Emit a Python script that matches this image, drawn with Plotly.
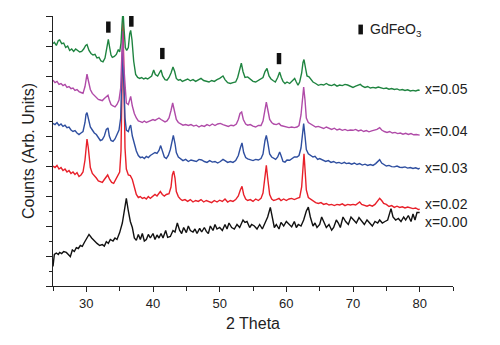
import plotly.graph_objects as go

# ---------------- data ----------------
t00 = [25.0,25.2,25.5,25.8,26.0,26.3,26.6,27.0,27.3,27.6,27.9,28.2,28.5,28.8,29.1,29.4,29.7,30.0,30.4,30.8,31.2,31.6,32.0,32.4,32.7,33.0,33.3,33.6,34.0,34.3,34.6,35.0,35.4,35.7,36.0,36.3,36.6,36.9,37.2,37.5,37.8,38.1,38.4,38.7,39.0,39.3,39.6,40.0,40.3,40.6,40.9,41.2,41.5,41.9,42.2,42.6,43.0,43.3,43.65,44.0,44.3,44.6,45.0,45.3,45.6,46.0,46.3,46.6,47.0,47.3,47.7,48.0,48.3,48.6,49.0,49.3,49.6,50.0,50.4,50.8,51.1,51.4,51.8,52.2,52.6,53.0,53.5,53.8,54.1,54.5,54.8,55.2,55.6,56.0,56.4,56.8,57.2,57.6,57.9,58.2,58.5,58.9,59.2,59.6,60.0,60.4,60.8,61.2,61.5,61.8,62.2,62.6,63.0,63.3,63.6,64.0,64.3,64.6,65.0,65.3,65.7,66.0,66.4,66.8,67.1,67.5,67.8,68.1,68.5,68.9,69.3,69.7,70.1,70.5,70.9,71.3,71.7,72.1,72.5,72.9,73.3,73.7,74.0,74.4,74.8,75.2,75.7,76.0,76.4,76.8,77.2,77.6,77.9,78.3,78.7,79.0,79.3,79.6,80.0]
i00 = [0.65,1.05,1.1,1.05,1.12,1.08,1.15,1.12,1.05,0.98,1.2,1.15,1.28,1.25,1.35,1.32,1.45,1.55,1.72,1.6,1.5,1.42,1.35,1.38,1.33,1.48,1.42,1.55,1.5,1.6,1.55,1.78,2.1,2.55,2.92,2.5,2.15,1.95,1.6,1.52,1.72,1.55,1.75,1.5,1.55,1.72,1.6,1.75,1.55,1.7,1.6,1.75,1.6,1.85,1.62,1.65,1.85,1.8,2.1,1.85,1.75,1.95,1.78,2.0,1.85,1.8,1.9,1.75,1.92,1.8,1.95,1.82,1.75,2.0,1.85,2.05,1.9,1.95,1.85,2.05,1.9,2.1,1.95,1.9,2.05,1.95,2.2,2.12,2.15,1.95,2.05,2.0,1.9,2.05,1.9,2.1,2.3,2.62,2.3,1.95,2.05,1.9,2.12,2.0,2.15,2.05,1.97,2.15,1.95,2.05,2.0,2.2,2.5,2.63,2.3,2.0,2.1,1.95,2.05,2.3,2.1,1.95,2.05,1.86,1.95,2.2,2.1,1.95,2.3,2.15,2.05,2.3,2.2,2.1,2.28,2.15,2.05,2.2,2.1,2.0,2.15,2.1,2.2,2.1,2.15,2.2,2.58,2.3,2.2,2.25,2.15,2.3,2.2,2.35,2.15,2.4,2.2,2.45,2.45]

t02 = [25.0,25.3,25.6,25.9,26.2,26.5,26.8,27.1,27.4,27.7,28.0,28.3,28.6,28.9,29.2,29.5,29.8,29.95,30.1,30.3,30.6,30.9,31.2,31.5,31.8,32.1,32.4,32.7,33.0,33.2,33.5,33.8,34.1,34.4,34.7,35.0,35.2,35.35,35.5,35.65,35.8,36.0,36.3,36.6,36.9,37.2,37.5,37.8,38.1,38.4,38.7,39.0,39.3,39.6,40.0,40.3,40.6,40.9,41.1,41.4,41.7,42.0,42.4,42.7,42.9,43.1,43.3,43.5,43.8,44.1,44.4,44.8,45.2,45.6,46.0,46.4,46.8,47.2,47.6,48.0,48.4,48.8,49.2,49.6,50.0,50.4,50.8,51.2,51.6,52.0,52.4,52.8,53.1,53.35,53.6,53.9,54.2,54.6,55.0,55.4,55.8,56.2,56.5,56.8,57.0,57.2,57.5,57.8,58.1,58.5,58.9,59.2,59.6,60.0,60.4,60.8,61.2,61.6,62.0,62.3,62.5,62.65,62.8,63.0,63.3,63.6,64.0,64.4,64.8,65.2,65.6,66.0,66.4,66.8,67.2,67.6,68.0,68.4,68.8,69.2,69.6,70.0,70.4,70.8,71.0,71.3,71.7,72.1,72.5,72.9,73.3,73.7,74.0,74.3,74.6,75.0,75.4,75.8,76.2,76.6,77.0,77.4,77.8,78.2,78.6,79.0,79.4,79.8,80.0]
i02 = [4.0,3.95,4.02,3.9,3.95,3.85,3.9,3.8,3.85,3.75,3.8,3.72,3.78,3.65,3.7,3.8,4.2,4.75,4.9,4.6,3.95,3.75,3.68,3.6,3.5,3.48,3.45,3.55,3.62,3.7,3.55,3.45,3.42,3.55,3.65,3.8,4.5,6.5,8.85,6.8,4.6,3.9,3.7,3.68,3.55,3.3,3.05,2.95,2.98,2.92,2.95,2.9,2.98,2.92,3.0,3.05,3.0,3.08,3.15,3.05,3.0,3.05,3.08,3.3,3.7,3.83,3.6,3.15,2.98,2.9,2.85,2.88,2.82,2.88,2.8,2.85,2.82,2.88,2.8,2.85,2.82,2.78,2.85,2.8,2.86,2.82,2.9,2.8,2.85,2.82,2.88,3.0,3.2,3.32,3.05,2.9,2.85,2.88,2.82,2.9,2.85,2.92,3.1,3.7,4.02,3.6,3.05,2.9,2.85,2.88,2.92,2.85,2.9,2.85,2.9,2.92,2.88,2.92,2.95,3.3,4.1,4.41,3.9,3.2,2.95,2.9,2.82,2.78,2.75,2.78,2.72,2.75,2.7,2.72,2.68,2.72,2.7,2.74,2.68,2.72,2.7,2.72,2.7,2.76,2.8,2.72,2.68,2.66,2.7,2.66,2.72,2.82,2.92,2.85,2.75,2.72,2.65,2.68,2.62,2.66,2.62,2.64,2.6,2.63,2.6,2.58,2.6,2.55,2.56]

t03 = [25.0,25.3,25.6,25.9,26.2,26.5,26.8,27.1,27.4,27.7,28.0,28.3,28.6,28.9,29.2,29.5,29.8,29.95,30.1,30.3,30.6,30.9,31.2,31.5,31.8,32.1,32.4,32.7,33.0,33.25,33.45,33.7,34.0,34.3,34.6,34.9,35.15,35.3,35.45,35.6,35.8,36.0,36.3,36.5,36.65,36.9,37.2,37.5,37.8,38.1,38.4,38.7,39.0,39.3,39.6,40.0,40.3,40.6,40.9,41.15,41.4,41.7,42.0,42.3,42.6,42.85,43.05,43.3,43.5,43.8,44.1,44.5,44.9,45.3,45.7,46.1,46.5,46.9,47.3,47.7,48.1,48.5,48.9,49.3,49.7,50.1,50.5,50.8,51.2,51.6,52.0,52.4,52.8,53.1,53.35,53.6,53.9,54.2,54.6,55.0,55.4,55.8,56.2,56.5,56.8,57.0,57.2,57.5,57.8,58.1,58.4,58.7,59.0,59.2,59.5,59.8,60.1,60.5,60.8,61.2,61.6,61.9,62.2,62.45,62.6,62.8,63.0,63.3,63.6,64.0,64.3,64.7,65.0,65.5,65.9,66.3,66.7,67.1,67.5,67.9,68.3,68.7,69.0,69.4,69.8,70.2,70.6,71.0,71.4,71.8,72.2,72.6,73.0,73.4,73.8,74.0,74.3,74.6,75.0,75.4,75.8,76.2,76.6,77.0,77.4,77.8,78.2,78.6,79.0,79.4,79.8,80.0]
i03 = [5.42,5.38,5.45,5.35,5.4,5.32,5.36,5.28,5.3,5.2,5.15,5.18,5.1,5.05,5.1,5.15,5.45,5.72,5.78,5.55,5.3,5.2,5.1,5.05,4.95,4.85,4.88,5.0,5.22,5.27,5.0,4.85,4.82,4.9,5.05,5.2,5.6,6.8,8.0,6.9,5.6,5.2,5.15,5.3,5.36,5.0,4.7,4.5,4.35,4.28,4.3,4.25,4.32,4.28,4.35,4.4,4.45,4.42,4.52,4.68,4.5,4.3,4.25,4.35,4.55,4.9,5.02,4.75,4.45,4.3,4.25,4.18,4.22,4.15,4.2,4.18,4.15,4.22,4.2,4.15,4.12,4.18,4.13,4.15,4.1,4.15,4.22,4.18,4.12,4.15,4.12,4.18,4.35,4.6,4.77,4.45,4.28,4.24,4.2,4.18,4.22,4.2,4.25,4.4,4.85,5.02,4.8,4.4,4.3,4.25,4.22,4.3,4.47,4.35,4.15,4.13,4.2,4.19,4.25,4.3,4.3,4.35,4.6,5.2,5.41,5.0,4.55,4.41,4.35,4.3,4.32,4.22,4.25,4.19,4.15,4.18,4.12,4.15,4.1,4.12,4.08,4.12,4.08,4.1,4.06,4.1,4.05,4.08,4.03,4.06,4.02,4.05,4.02,4.08,4.15,4.21,4.1,4.05,4.0,4.02,3.98,3.97,4.0,3.96,3.95,3.97,3.93,3.95,3.92,3.94,3.9,3.93]

t04 = [25.0,25.3,25.6,25.9,26.2,26.5,26.8,27.1,27.4,27.7,28.0,28.3,28.6,28.9,29.2,29.5,29.8,29.95,30.1,30.3,30.6,30.9,31.2,31.5,31.8,32.1,32.4,32.7,33.0,33.25,33.45,33.7,34.0,34.3,34.6,34.9,35.15,35.3,35.45,35.6,35.8,36.0,36.3,36.5,36.65,36.9,37.2,37.5,37.8,38.1,38.4,38.7,39.0,39.3,39.6,40.0,40.3,40.6,40.9,41.2,41.5,41.8,42.1,42.4,42.7,42.95,43.2,43.5,43.8,44.1,44.5,44.9,45.3,45.7,46.1,46.5,46.9,47.3,47.7,48.1,48.5,48.9,49.3,49.7,50.1,50.5,50.9,51.3,51.7,52.1,52.5,52.8,53.05,53.3,53.55,53.9,54.2,54.6,55.0,55.4,55.8,56.2,56.5,56.8,57.0,57.2,57.5,57.8,58.1,58.5,58.9,59.2,59.6,60.0,60.4,60.8,61.2,61.6,61.9,62.2,62.45,62.6,62.8,63.0,63.3,63.6,64.0,64.4,64.8,65.2,65.6,66.0,66.4,66.8,67.2,67.6,68.0,68.4,68.8,69.2,69.6,70.0,70.4,70.8,71.2,71.6,72.0,72.4,72.8,73.2,73.6,74.0,74.3,74.7,75.1,75.5,75.9,76.3,76.7,77.1,77.5,77.9,78.3,78.7,79.1,79.5,79.9,80.0]
i04 = [6.86,6.78,6.82,6.72,6.75,6.68,6.72,6.62,6.65,6.58,6.6,6.52,6.55,6.48,6.45,6.42,6.65,6.95,7.06,6.85,6.55,6.42,6.35,6.3,6.22,6.2,6.18,6.25,6.32,6.36,6.2,6.05,6.0,5.97,6.05,6.2,6.6,7.5,8.5,7.4,6.5,6.1,6.05,6.2,6.32,6.0,5.75,5.6,5.5,5.48,5.45,5.5,5.45,5.48,5.5,5.55,5.52,5.55,5.6,5.55,5.5,5.47,5.5,5.6,5.85,6.1,5.85,5.55,5.45,5.4,5.36,5.38,5.35,5.38,5.33,5.36,5.3,5.35,5.32,5.38,5.34,5.4,5.35,5.4,5.42,5.38,5.35,5.32,5.36,5.34,5.4,5.55,5.75,5.8,5.55,5.4,5.36,5.38,5.33,5.3,5.35,5.35,5.5,5.95,6.13,5.9,5.55,5.45,5.4,5.38,5.42,5.35,5.32,5.3,5.28,5.3,5.28,5.3,5.35,5.7,6.4,6.63,6.2,5.6,5.45,5.41,5.35,5.3,5.32,5.28,5.25,5.3,5.25,5.22,5.26,5.2,5.23,5.19,5.22,5.18,5.2,5.19,5.22,5.17,5.2,5.15,5.18,5.14,5.17,5.2,5.22,5.28,5.2,5.15,5.12,5.15,5.1,5.12,5.08,5.1,5.06,5.09,5.05,5.08,5.04,5.05,5.02,5.03]

t05 = [25.0,25.2,25.5,25.8,26.0,26.3,26.6,26.9,27.2,27.5,27.8,28.1,28.4,28.7,29.0,29.3,29.6,29.9,30.1,30.4,30.7,31.0,31.3,31.6,31.9,32.2,32.5,32.8,33.05,33.3,33.5,33.7,33.9,34.2,34.5,34.8,35.0,35.2,35.35,35.5,35.65,35.85,36.05,36.3,36.5,36.65,36.85,37.1,37.4,37.7,38.0,38.3,38.6,38.9,39.2,39.5,39.8,40.1,40.35,40.7,41.0,41.2,41.45,41.8,42.1,42.4,42.7,43.0,43.25,43.5,43.8,44.1,44.4,44.8,45.2,45.6,46.0,46.4,46.8,47.2,47.6,48.0,48.4,48.8,49.2,49.6,50.0,50.5,50.8,51.2,51.6,52.0,52.4,52.7,53.0,53.25,53.5,53.8,54.2,54.6,55.0,55.4,55.8,56.2,56.5,56.8,57.1,57.4,57.7,58.0,58.35,58.7,59.0,59.25,59.5,59.8,60.1,60.5,60.9,61.25,61.5,61.75,62.0,62.3,62.5,62.65,62.85,63.1,63.4,63.7,64.0,64.4,64.8,65.2,65.6,66.0,66.4,66.8,67.2,67.6,68.0,68.4,68.8,69.2,69.6,70.0,70.4,70.8,71.1,71.4,71.8,72.2,72.6,73.0,73.4,73.8,74.2,74.6,75.0,75.4,75.8,76.2,76.6,77.0,77.4,77.8,78.2,78.6,79.0,79.4,79.8,80.0]
i05 = [8.08,8.12,8.02,8.18,8.2,8.08,8.1,7.95,8.0,7.85,7.9,7.82,7.9,7.85,7.8,7.82,7.9,8.02,8.05,7.85,7.75,7.7,7.72,7.6,7.62,7.5,7.47,7.6,7.95,8.22,7.95,7.7,7.62,7.65,7.72,7.88,7.8,8.1,8.7,9.19,8.6,7.95,7.85,7.95,8.4,8.52,8.2,7.5,7.05,6.95,6.92,6.95,6.9,6.93,6.9,6.95,7.0,7.2,7.05,7.0,7.12,7.2,7.0,6.88,6.86,6.95,7.1,7.3,7.15,6.92,6.86,6.88,6.82,6.86,6.9,6.84,6.88,6.82,6.86,6.92,6.85,6.82,6.8,6.85,6.82,6.88,6.92,7.0,6.88,6.78,6.75,6.78,6.8,6.95,7.25,7.43,7.15,6.95,6.97,6.88,6.82,6.8,6.85,6.92,6.95,7.15,7.25,7.0,6.9,6.85,6.8,6.95,7.13,6.95,6.82,6.75,6.8,6.75,6.85,6.92,6.8,6.69,6.8,7.1,7.45,7.55,7.3,7.0,6.97,6.9,6.8,6.75,6.69,6.72,6.7,6.75,6.7,6.68,6.72,6.66,6.7,6.68,6.72,6.7,6.65,6.62,6.66,6.7,6.72,6.66,6.62,6.65,6.6,6.62,6.6,6.63,6.6,6.58,6.6,6.56,6.58,6.55,6.57,6.53,6.55,6.52,6.54,6.5,6.52,6.5,6.53,6.52]

series_labels = ["x=0.00", "x=0.02", "x=0.03", "x=0.04", "x=0.05"]
label_y = [2.12, 2.72, 3.92, 5.17, 6.58]

marker_theta = [33.3, 36.75, 41.4, 58.9]
marker_y = [8.63, 8.83, 7.75, 7.58]
legend_theta = [71.15]
legend_y = [8.55]
legend_text = "GdFeO<sub>3</sub>"

x_ticks = [30, 40, 50, 60, 70, 80]

# ---------------- figure ----------------
colors = ["#111111", "#e8202a", "#2f4fa0", "#b04ba8", "#1f8440"]
thetas = [t00, t02, t03, t04, t05]
ints = [i00, i02, i03, i04, i05]

fig = go.Figure()
for t, i, c, name in zip(thetas, ints, colors, series_labels):
    fig.add_trace(go.Scatter(x=t, y=i, mode="lines", name=name,
                             line=dict(color=c, width=1.4), showlegend=False))

fig.add_trace(go.Scatter(x=marker_theta, y=marker_y, mode="markers", showlegend=False,
                         marker=dict(symbol="line-ns", size=8,
                                     line=dict(color="#111111", width=4.5))))
fig.add_trace(go.Scatter(x=legend_theta, y=legend_y, mode="markers", showlegend=False,
                         marker=dict(symbol="line-ns", size=7,
                                     line=dict(color="#111111", width=4.5))))

font_family = "Liberation Sans, Arial, sans-serif"
for lab, ly in zip(series_labels, label_y):
    fig.add_annotation(x=80.5, y=ly, text=lab, showarrow=False, xanchor="left",
                       yanchor="middle", font=dict(size=14, color="#222222", family=font_family))

fig.add_annotation(x=72.2, y=legend_y[0], text=legend_text, showarrow=False, xanchor="left",
                   yanchor="middle", font=dict(size=14, color="#222222", family=font_family))

fig.add_annotation(x=0, y=0.5, xref="paper", yref="paper", xshift=-25,
                   text="Counts (Arb. Units)", textangle=-90, showarrow=False,
                   xanchor="center", yanchor="middle",
                   font=dict(size=16, color="#222222", family=font_family))

fig.update_layout(
    width=500, height=345,
    margin=dict(l=53, r=47, t=16, b=59),
    paper_bgcolor="white", plot_bgcolor="white",
    font=dict(family=font_family, color="#222222"),
    xaxis=dict(range=[25, 85], tickvals=x_ticks, ticks="outside", ticklen=5,
               tickwidth=1, tickcolor="#222222", showline=True, linecolor="#222222",
               linewidth=1, showgrid=False, zeroline=False,
               tickfont=dict(size=13, color="#222222"),
               minor=dict(dtick=5, tick0=25, ticks="outside", ticklen=4,
                          tickcolor="#222222", showgrid=False),
               title=dict(text="2 Theta", font=dict(size=16, color="#222222"), standoff=8)),
    yaxis=dict(range=[0, 9], dtick=1, tick0=0, ticks="outside", ticklen=6,
               tickwidth=1, tickcolor="#222222", showline=True, linecolor="#222222",
               linewidth=1, showgrid=False, zeroline=False, showticklabels=False,
               minor=dict(dtick=0.5, tick0=0, ticks="outside", ticklen=3,
                          tickcolor="#222222", showgrid=False)),
)

fig.write_html("out.html")
